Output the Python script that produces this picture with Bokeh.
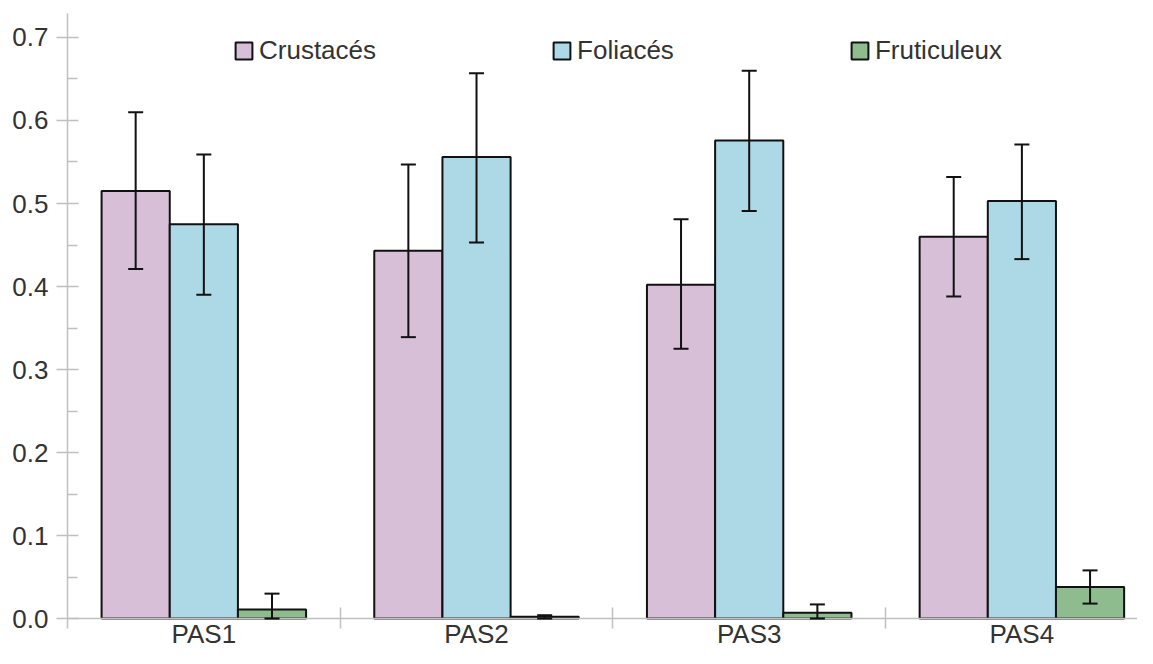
from bokeh.plotting import figure
from bokeh.models import (ColumnDataSource, Range1d, FixedTicker, Whisker, TeeHead,
                          Legend, LegendItem, NumeralTickFormatter, LinearAxis)
from bokeh.embed import file_html
from bokeh.resources import INLINE

# ---- data ----
categories = ["PAS1", "PAS2", "PAS3", "PAS4"]
series_names = ["Crustacés", "Foliacés", "Fruticuleux"]
crustaces = [0.515, 0.443, 0.402, 0.460]
crustaces_lo = [0.421, 0.339, 0.325, 0.388]
crustaces_hi = [0.610, 0.547, 0.481, 0.532]
foliaces = [0.475, 0.556, 0.576, 0.503]
foliaces_lo = [0.390, 0.453, 0.491, 0.433]
foliaces_hi = [0.559, 0.657, 0.660, 0.571]
fruticuleux = [0.011, 0.002, 0.007, 0.038]
fruticuleux_lo = [0.0, 0.0, 0.0, 0.018]
fruticuleux_hi = [0.030, 0.004, 0.017, 0.058]
y_ticks = [0.0, 0.1, 0.2, 0.3, 0.4, 0.5, 0.6, 0.7]
y_minor = [0.05, 0.15, 0.25, 0.35, 0.45, 0.55, 0.65]

colors = ["#d8bfd8", "#add8e6", "#8fbc8f"]
FONT = "Liberation Sans"
TXT = "#333333"
AX = "#c0c0c0"

p = figure(width=1137, height=648, output_backend="svg", toolbar_location=None,
           x_range=Range1d(0, 3.924), y_range=Range1d(-0.0361, 0.7289),
           min_border_left=67, min_border_right=0, min_border_top=13, min_border_bottom=0)
p.xaxis.visible = False
p.yaxis.visible = False
p.grid.visible = False
p.outline_line_color = None
p.background_fill_color = "white"

# y axis
yax = LinearAxis(ticker=FixedTicker(ticks=y_ticks, minor_ticks=y_minor),
                 formatter=NumeralTickFormatter(format="0.0"),
                 bounds=(-0.0125, 0.729))
yax.axis_line_color = AX
yax.axis_line_width = 1.5
yax.major_tick_line_color = AX
yax.major_tick_line_width = 1.5
yax.minor_tick_line_color = AX
yax.minor_tick_line_width = 1.5
yax.major_tick_in = 11
yax.major_tick_out = 11
yax.minor_tick_in = 10
yax.minor_tick_out = 0
yax.major_label_standoff = 8
yax.major_label_text_font = FONT
yax.major_label_text_font_size = "26px"
yax.major_label_text_color = TXT
p.add_layout(yax, "left")

# x axis at y = 0
xax = LinearAxis(ticker=FixedTicker(ticks=[0.5, 1.5, 2.5, 3.5], minor_ticks=[1, 2, 3]),
                 fixed_location=0)
xax.major_label_overrides = {0.5 + i: c for i, c in enumerate(categories)}
xax.axis_line_color = AX
xax.axis_line_width = 1.5
xax.major_tick_in = 0
xax.major_tick_out = 0
xax.minor_tick_in = 11
xax.minor_tick_out = 10
xax.minor_tick_line_color = AX
xax.minor_tick_line_width = 1.5
xax.major_label_standoff = -10
xax.major_label_text_font = FONT
xax.major_label_text_font_size = "26px"
xax.major_label_text_color = TXT
p.add_layout(xax, "below")

vals = [crustaces, foliaces, fruticuleux]
los = [crustaces_lo, foliaces_lo, fruticuleux_lo]
his = [crustaces_hi, foliaces_hi, fruticuleux_hi]
offsets = [-0.25, 0.0, 0.25]

items = []
for k in range(3):
    xs = [i + 0.5 + offsets[k] for i in range(len(categories))]
    src = ColumnDataSource(dict(x=xs, top=vals[k], lo=los[k], hi=his[k]))
    r = p.vbar(x="x", top="top", bottom=0, width=0.25, source=src,
               fill_color=colors[k], line_color="#111111", line_width=2)
    w = Whisker(base="x", upper="hi", lower="lo", source=src, dimension="height",
                line_color="#111111", line_width=2, level="annotation",
                upper_head=TeeHead(size=15, line_width=2, line_color="#111111"),
                lower_head=TeeHead(size=15, line_width=2, line_color="#111111"))
    p.add_layout(w)
    items.append(LegendItem(label=series_names[k], renderers=[r]))

leg = Legend(items=items, orientation="horizontal", location=(166, 582),
             padding=0, margin=0, spacing=175, label_standoff=5,
             glyph_width=21, glyph_height=21,
             border_line_alpha=0, background_fill_alpha=0,
             label_text_font=FONT, label_text_font_size="26px", label_text_color=TXT)
p.add_layout(leg, "center")

open("out.html", "w").write(file_html(p, INLINE))
